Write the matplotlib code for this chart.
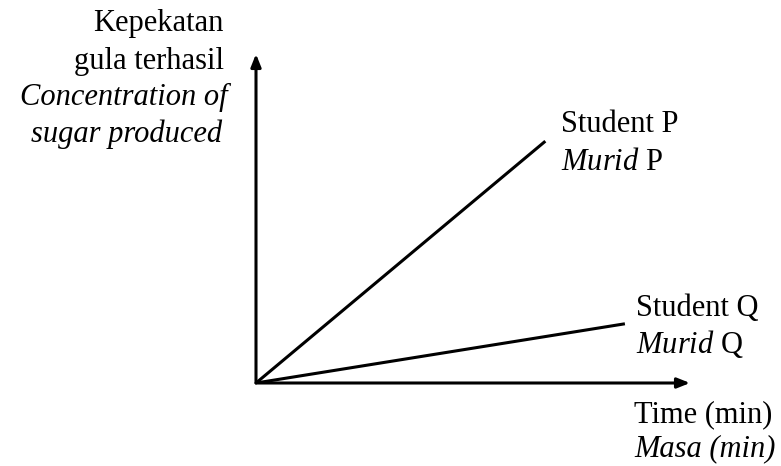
import matplotlib
matplotlib.use("Agg")
import matplotlib.pyplot as plt

# Data (arbitrary units)
time_p = [0, 8.0]
conc_p = [0, 7.35]
time_q = [0, 10.2]
conc_q = [0, 1.8]
x_max = 12
y_max = 10

plt.rcParams['font.family'] = ['Liberation Serif', 'DejaVu Serif']
plt.rcParams['mathtext.fontset'] = 'custom'
plt.rcParams['mathtext.it'] = 'Liberation Serif:italic'
plt.rcParams['mathtext.rm'] = 'Liberation Serif'

W, H = 781, 466
fig = plt.figure(figsize=(W/100, H/100), dpi=100)
ax = fig.add_axes([256/W, 83/H, (690-256)/W, (383-54)/H])
ax.set_xlim(0, x_max)
ax.set_ylim(0, y_max)
ax.axis('off')

lw = 2.2
ax.plot(time_p, conc_p, color='black', lw=lw, solid_capstyle='butt')
ax.plot(time_q, conc_q, color='black', lw=lw, solid_capstyle='butt')

arrow = dict(arrowstyle='-|>,head_length=0.75,head_width=0.3', color='black', lw=2.2, shrinkA=0, shrinkB=0)
ax.annotate('', xy=(1, 0), xytext=(0, 0), xycoords='axes fraction', textcoords='axes fraction', arrowprops=arrow)
ax.annotate('', xy=(0, 1), xytext=(0, 0), xycoords='axes fraction', textcoords='axes fraction', arrowprops=arrow)

fs = 22
def ftext(x, y, s, **kw):
    fig.text(x/W, 1 - y/H, s, fontsize=fs, va='baseline', **kw)

ftext(224, 31, 'Kepekatan', ha='right')
ftext(224, 69, 'gula terhasil', ha='right')
ftext(228, 105, 'Concentration of', ha='right', style='italic')
ftext(222, 142, 'sugar produced', ha='right', style='italic')

ftext(561, 132, 'Student P', ha='left')
ftext(561, 170, r'$\mathit{Murid}$ P', ha='left')
ftext(636, 316, 'Student Q', ha='left')
ftext(636, 353, r'$\mathit{Murid}$ Q', ha='left')
ftext(634, 422, 'Time (min)', ha='left')
ftext(634, 456, 'Masa (min)', ha='left', style='italic')

fig.savefig('out.png', dpi=100)
